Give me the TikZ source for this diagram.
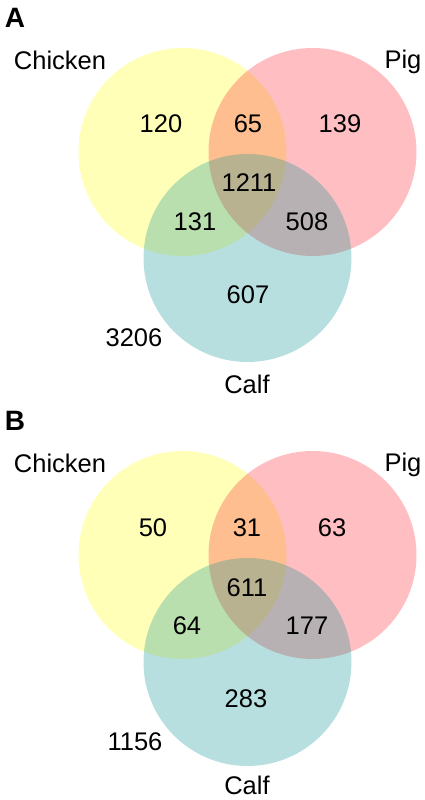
\documentclass[tikz,border=0pt]{standalone}
\usepackage{fontspec}
\setmainfont{Liberation Sans}
\definecolor{cyel}{RGB}{255,255,20}
\definecolor{cred}{RGB}{255,40,50}
\definecolor{ctea}{RGB}{20,150,150}
\tikzset{
  venn/.style={circle, minimum size=208pt, inner sep=0pt, fill opacity=0.3, draw=none},
  num/.style={font=\fontsize{25.5}{30}\selectfont, inner sep=0pt},
  panel/.style={font=\fontsize{28}{33}\selectfont\bfseries, inner sep=0pt}
}
\begin{document}
\begin{tikzpicture}[x=1pt,y=-1pt]
\useasboundingbox (0,0) rectangle (424,800);
% Panel A
\node[venn, fill=cyel] (ya) at (182.5,152) {};
\node[venn, fill=cred] (pa) at (312.5,152) {};
\node[venn, fill=ctea] (ta) at (247.5,258) {};
\node[panel] (la) at (15,18) {A};
\node[num] (cha) at (60,60) {Chicken};
\node[num] (pga) at (403,62) {Pig};
\node[num] (cfa) at (247,384) {Calf};
\node[num] (a1) at (161,124) {120};
\node[num] (a2) at (248,124) {65};
\node[num] (a3) at (340,124) {139};
\node[num] (a4) at (249,183) {1211};
\node[num] (a5) at (195,222) {131};
\node[num] (a6) at (307,222) {508};
\node[num] (a7) at (248,295) {607};
\node[num] (a8) at (134,338) {3206};
% Panel B
\node[venn, fill=cyel] (yb) at (182.5,555) {};
\node[venn, fill=cred] (pb) at (312.5,555) {};
\node[venn, fill=ctea] (tb) at (247.5,662) {};
\node[panel] (lb) at (15,421) {B};
\node[num] (chb) at (60,463) {Chicken};
\node[num] (pgb) at (403,465) {Pig};
\node[num] (cfb) at (247,785) {Calf};
\node[num] (b1) at (153,528) {50};
\node[num] (b2) at (247,528) {31};
\node[num] (b3) at (332,528) {63};
\node[num] (b4) at (247,588) {611};
\node[num] (b5) at (187,626) {64};
\node[num] (b6) at (307,626) {177};
\node[num] (b7) at (246,699) {283};
\node[num] (b8) at (135,742) {1156};
\end{tikzpicture}
\end{document}
